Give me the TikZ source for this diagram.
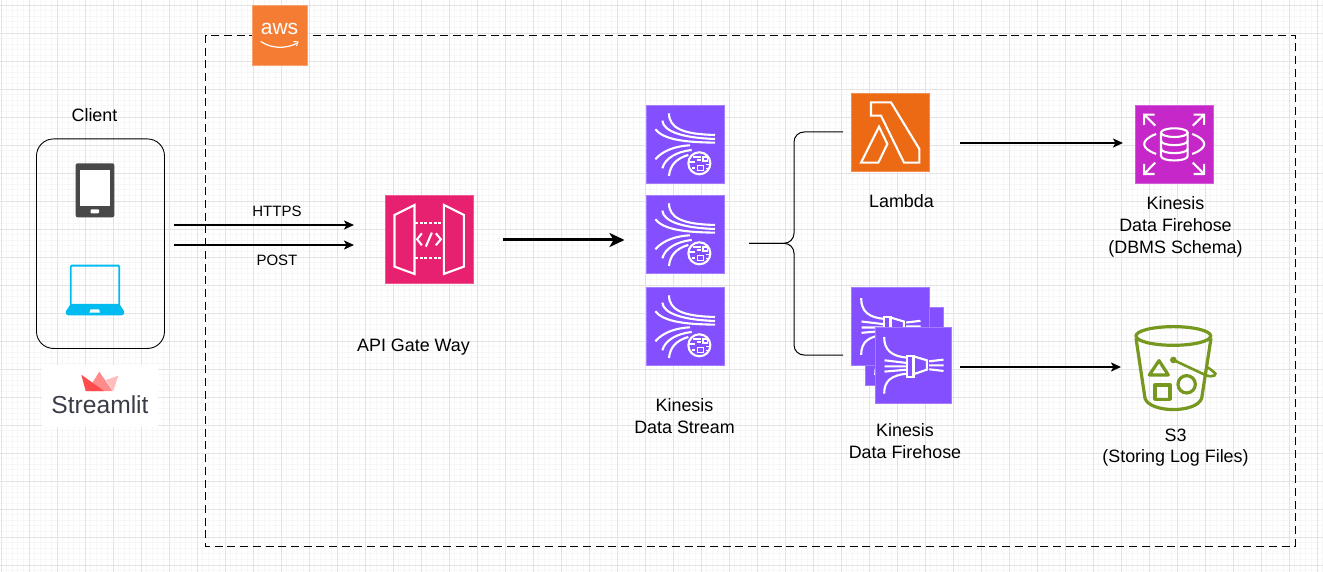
\documentclass[tikz,border=0pt]{standalone}
\usepackage{fontspec}
\setmainfont{Liberation Sans}
\usetikzlibrary{arrows.meta}
\definecolor{GATECOL}{HTML}{E7206F}
\definecolor{KINCOL}{HTML}{8450FF}
\definecolor{LAMCOL}{HTML}{EC6A14}
\definecolor{RDSCOL}{HTML}{C527C9}
\definecolor{AWSCOL}{HTML}{F57C33}
\definecolor{S3COL}{HTML}{76981E}
\definecolor{TABCOL}{HTML}{484848}
\definecolor{LAPCOL}{HTML}{00BBF0}
\definecolor{SLITCOL}{HTML}{3A3C48}
\definecolor{CROWNA}{HTML}{FF4B4B}
\definecolor{CROWNB}{HTML}{FF8C8C}
\definecolor{CROWNC}{HTML}{FFBDBD}
\tikzset{
ICON/.style={draw=#1!75!white,fill=#1,line width=0.6pt,minimum size=78pt,inner sep=0pt},
GLYPH/.style={draw=white,line width=2.1pt,line join=miter,fill=none},
LABEL/.style={font=\fontsize{17.9}{21.7}\selectfont,align=center,inner sep=0pt},
SMALL/.style={font=\fontsize{15}{16}\selectfont,inner sep=0pt},
FLOW/.style={draw=black,line width=1.8pt,-{Stealth[length=10pt,width=9pt,inset=2.5pt]}},
BIGFLOW/.style={draw=black,line width=3pt,-{Stealth[length=15pt,width=14pt,inset=4pt]}},
BRANCH/.style={draw=black,line width=1pt,rounded corners=10pt},
STREAMGLYPH/.pic={
	\begin{scope}[scale=1/3,shift={(-135,-133)}]
	\path[GLYPH] (87,40) .. controls (87,85) and (130,103) .. (225,105);
	\path[GLYPH] (67,62) .. controls (70,95) and (130,114) .. (225,117);
	\path[GLYPH] (46,88) .. controls (70,118) and (130,127) .. (225,128);
	\path[GLYPH] (46,178) .. controls (70,150) and (110,138) .. (150,136);
	\path[GLYPH] (67,205) .. controls (75,175) and (110,155) .. (155,150);
	\path[GLYPH] (87,228) .. controls (90,195) and (110,175) .. (145,165);
	\path[GLYPH,fill=KINCOL] (178,190) circle (33);
	\path[GLYPH,line width=1.3pt] (189,171) rectangle (202,183);
	\path[GLYPH,line width=1.3pt] (172,197) rectangle (190,212);
	\path[GLYPH,line width=1.3pt] (160,171) -- (182,171) (148,186) -- (166,186) (170,180) -- (182,180) (197,194) -- (209,194) (197,205) -- (204,205) (156,204) -- (166,204);
	\end{scope}
},
FIREGLYPH/.pic={
	\begin{scope}[scale=1/3,shift={(-205,-255)}]
	\path[GLYPH] (117,170) .. controls (117,210) and (140,228) .. (185,232);
	\path[GLYPH] (117,340) .. controls (117,300) and (140,285) .. (185,280);
	\path[GLYPH] (118,240) -- (185,248) (118,258) -- (185,258) (118,274) -- (185,268);
	\path[GLYPH] (185,226) rectangle (205,290);
	\path[GLYPH] (205,228) -- (245,240) -- (245,268) -- (205,282);
	\path[GLYPH] (252,243) -- (295,238) (252,255) -- (295,255) (252,267) -- (295,272);
	\end{scope}
},
GATEGLYPH/.pic={
	\begin{scope}[scale=1/3,shift={(-176.5,-448)}]
	\path[GLYPH] (73,375) -- (133,345) -- (133,552) -- (73,530) -- cycle;
	\path[GLYPH] (221,345) -- (281,375) -- (281,530) -- (221,552) -- cycle;
	\path[GLYPH,dash pattern=on 3pt off 1.6pt] (135,398) -- (219,398) (135,505) -- (219,505);
	\path[GLYPH] (155,430) -- (141,448) -- (155,466) (185,428) -- (167,470) (197,430) -- (212,448) -- (197,466);
	\end{scope}
},
LAMBDAGLYPH/.pic={
	\begin{scope}[scale=1/3,shift={(-331.5,-157.5)}]
	\path[GLYPH] (273,67) -- (333,67) -- (418,207) -- (418,248) -- (372,248) -- (303,107) -- (273,107) -- cycle;
	\path[GLYPH] (297,140) -- (322,192) -- (295,248) -- (243,248) -- cycle;
	\end{scope}
},
RDSGLYPH/.pic={
	\begin{scope}[scale=1/3,shift={(-221.5,-163)}]
	\path[GLYPH] (222.5,128) ellipse (40 and 13);
	\path[GLYPH] (182.5,128) -- (182.5,198) .. controls (182.5,216) and (262.5,216) .. (262.5,198) -- (262.5,128);
	\path[GLYPH] (182.5,152) .. controls (182.5,170) and (262.5,170) .. (262.5,152);
	\path[GLYPH] (182.5,176) .. controls (182.5,194) and (262.5,194) .. (262.5,176);
	\path[GLYPH] (168,132) .. controls (120,150) and (120,175) .. (168,192);
	\path[GLYPH] (276,132) .. controls (324,150) and (324,175) .. (276,192);
	\path[GLYPH] (165,107) -- (132,74) (132,105) -- (132,74) -- (163,74);
	\path[GLYPH] (278,107) -- (312,74) (280,74) -- (312,74) -- (312,105);
	\path[GLYPH] (165,218) -- (132,252) (132,222) -- (132,252) -- (163,252);
	\path[GLYPH] (278,218) -- (312,252) (312,222) -- (312,252) -- (280,252);
	\end{scope}
},
BUCKETGLYPH/.pic={
	\begin{scope}[scale=1/3,shift={(-225,-835)},draw=S3COL,line width=3.2pt]
	\draw (220,738) ellipse (112 and 28);
	\draw (108,745) -- (135,925) .. controls (150,970) and (290,970) .. (305,925) -- (333,745);
	\draw[line join=round] (177,812) -- (205,855) -- (148,855) -- cycle;
	\draw[line join=round] (165,885) rectangle (210,928);
	\draw (260,883) circle (26);
	\fill[S3COL] (220,810) circle (10);
	\draw[line width=2.6pt] (220,810) -- (318,856) .. controls (342,864) and (355,853) .. (340,845) .. controls (335,840) and (327,835) .. (322,832);
	\end{scope}
},
TABLETGLYPH/.pic={
	\begin{scope}[scale=1/3,shift={(-285,-571)}]
	\fill[TABCOL,rounded corners=2pt] (227,490) rectangle (343,652);
	\fill[white] (240,510) rectangle (330,618);
	\fill[white,rounded corners=0.8pt] (272,628) rectangle (297,640);
	\end{scope}
},
LAPTOPGLYPH/.pic={
	\begin{scope}[scale=1/3,shift={(-285,-871)}]
	\draw[LAPCOL,line width=1.8pt,rounded corners=1pt] (212,915) -- (212,797) -- (358,797) -- (358,915);
	\fill[LAPCOL,rounded corners=1.5pt] (212,912) -- (358,912) -- (375,938) -- (370,946) -- (200,946) -- (195,938) -- cycle;
	\fill[white] (272,928) -- (297,928) -- (300,938) -- (268,938) -- cycle;
	\end{scope}
},
}

\begin{document}
\begin{tikzpicture} [x=1pt,y=-1pt] %Client to AWS log pipeline
	\useasboundingbox (0,0) rectangle (1323,572);
	\fill[white] (0,0) rectangle (1323,572);
	\begin{scope}[shift={(1,5)}]
	\draw[black!3,line width=0.7pt,step=5.6pt] (-1,-5) grid (1322,567);
	\draw[black!11,line width=0.8pt,step=28pt] (-1,-5) grid (1322,567);
	\end{scope}

	\draw[black,line width=0.9pt,dash pattern=on 8pt off 4.7pt] (205,35) rectangle (1295,546);

	% client side
	\node[LABEL] (clientlabel) at (94.5,115) {Client};
	\node[draw=black,line width=0.9pt,rounded corners=17pt,minimum width=128pt,minimum height=209.5pt,inner sep=0pt] (client) at (100.5,243.7) {};
	\pic at (95,190.3) {TABLETGLYPH};
	\pic at (95,290.3) {LAPTOPGLYPH};
	\node[fill=white,minimum width=116pt,minimum height=62pt,inner sep=0pt] (streamlit) at (100,396) {};
	\node[font=\fontsize{24.6}{28}\selectfont,text=SLITCOL,inner sep=0pt] (streamlittext) at (100,405) {Streamlit};
	\fill[CROWNB] (99.3,371.7) -- (112.7,391) -- (87.3,391) -- cycle;
	\fill[CROWNC] (118.3,375.7) -- (113.3,391) -- (106,380) -- cycle;
	\fill[CROWNA] (81.3,374.7) -- (104,391) -- (85.7,391) -- cycle;

	% aws badge
	\node[fill=AWSCOL,draw=AWSCOL!70!white,line width=0.5pt,minimum width=55pt,minimum height=60pt,inner sep=0pt] (aws) at (279.5,35) {};
	\node[font=\fontsize{21}{24}\selectfont,text=white,inner sep=0pt] (awstext) at (279.5,29) {aws};
	\draw[white,line width=1.2pt] (260.7,41.5) .. controls (272,49) and (286,49) .. (297.5,43);
	\draw[white,line width=1pt] (293.5,41.5) -- (298,42) -- (296.5,46);

	% services
	\node[ICON=GATECOL,minimum size=88pt] (gate) at (429,239.3) {};
	\pic at (gate) {GATEGLYPH};
	\node[LABEL] (gatelabel) at (413.5,347.5) {API Gate Way};

	\node[ICON=KINCOL] (kds1) at (685,144.3) {};
	\node[ICON=KINCOL] (kds2) at (685,234.3) {};
	\node[ICON=KINCOL] (kds3) at (685,326.3) {};
	\pic at (kds1) {STREAMGLYPH};
	\pic at (kds2) {STREAMGLYPH};
	\pic at (kds3) {STREAMGLYPH};
	\node[LABEL] (kdslabel) at (684.5,416) {Kinesis\\Data Stream};

	\node[ICON=LAMCOL] (lambda) at (890.5,132.5) {};
	\pic at (lambda) {LAMBDAGLYPH};
	\node[LABEL] (lambdalabel) at (901.5,201) {Lambda};

	\node[ICON=KINCOL] (fire2) at (904.5,346.5) {};
	\pic at (fire2) {FIREGLYPH};
	\node[ICON=KINCOL] (fire1) at (890.5,326.5) {};
	\pic at (fire1) {FIREGLYPH};
	\node[ICON=KINCOL,minimum size=76.5pt] (fire3) at (913.5,365.3) {};
	\pic at (fire3) {FIREGLYPH};
	\node[LABEL] (firelabel) at (905,441) {Kinesis\\Data Firehose};

	\node[ICON=RDSCOL] (rds) at (1174,144.3) {};
	\pic at (rds) {RDSGLYPH};
	\node[LABEL] (rdslabel) at (1175.5,227) {Kinesis\\Data Firehose\\(DBMS Schema)};

	\node[minimum width=82pt,minimum height=84pt,inner sep=0pt] (s3) at (1175,368.3) {};
	\pic at (s3) {BUCKETGLYPH};
	\node[LABEL] (s3label) at (1175.5,447.5) {S3\\(Storing Log Files)};

	% connectors
	\coordinate (httpsfrom) at (174,225);
	\coordinate (httpsto) at (354,225);
	\coordinate (postfrom) at (174,245);
	\coordinate (postto) at (354,245);
	\draw[FLOW] (httpsfrom) -- node[SMALL,pos=0.572,above=7pt] (httpslabel) {HTTPS} (httpsto);
	\draw[FLOW] (postfrom) -- node[SMALL,pos=0.572,below=9pt] (postlabel) {POST} (postto);
	\coordinate (gatefrom) at (503,240);
	\coordinate (gateto) at (624.5,240);
	\draw[BIGFLOW] (gatefrom) -- (gateto);
	\coordinate (brroot) at (749,243.3);
	\coordinate (brtop) at (843,132);
	\coordinate (brbot) at (843,355);
	\draw[BRANCH] (brroot) -- (794,243.3) -- (794,132) -- (brtop);
	\draw[BRANCH] (brroot) -- (794,243.3) -- (794,355) -- (brbot);
	\coordinate (lamfrom) at (960,143);
	\coordinate (lamto) at (1123,143);
	\draw[FLOW] (lamfrom) -- (lamto);
	\coordinate (firefrom) at (960,367);
	\coordinate (fireto) at (1121,367);
	\draw[FLOW] (firefrom) -- (fireto);
\end{tikzpicture}
\end{document}
